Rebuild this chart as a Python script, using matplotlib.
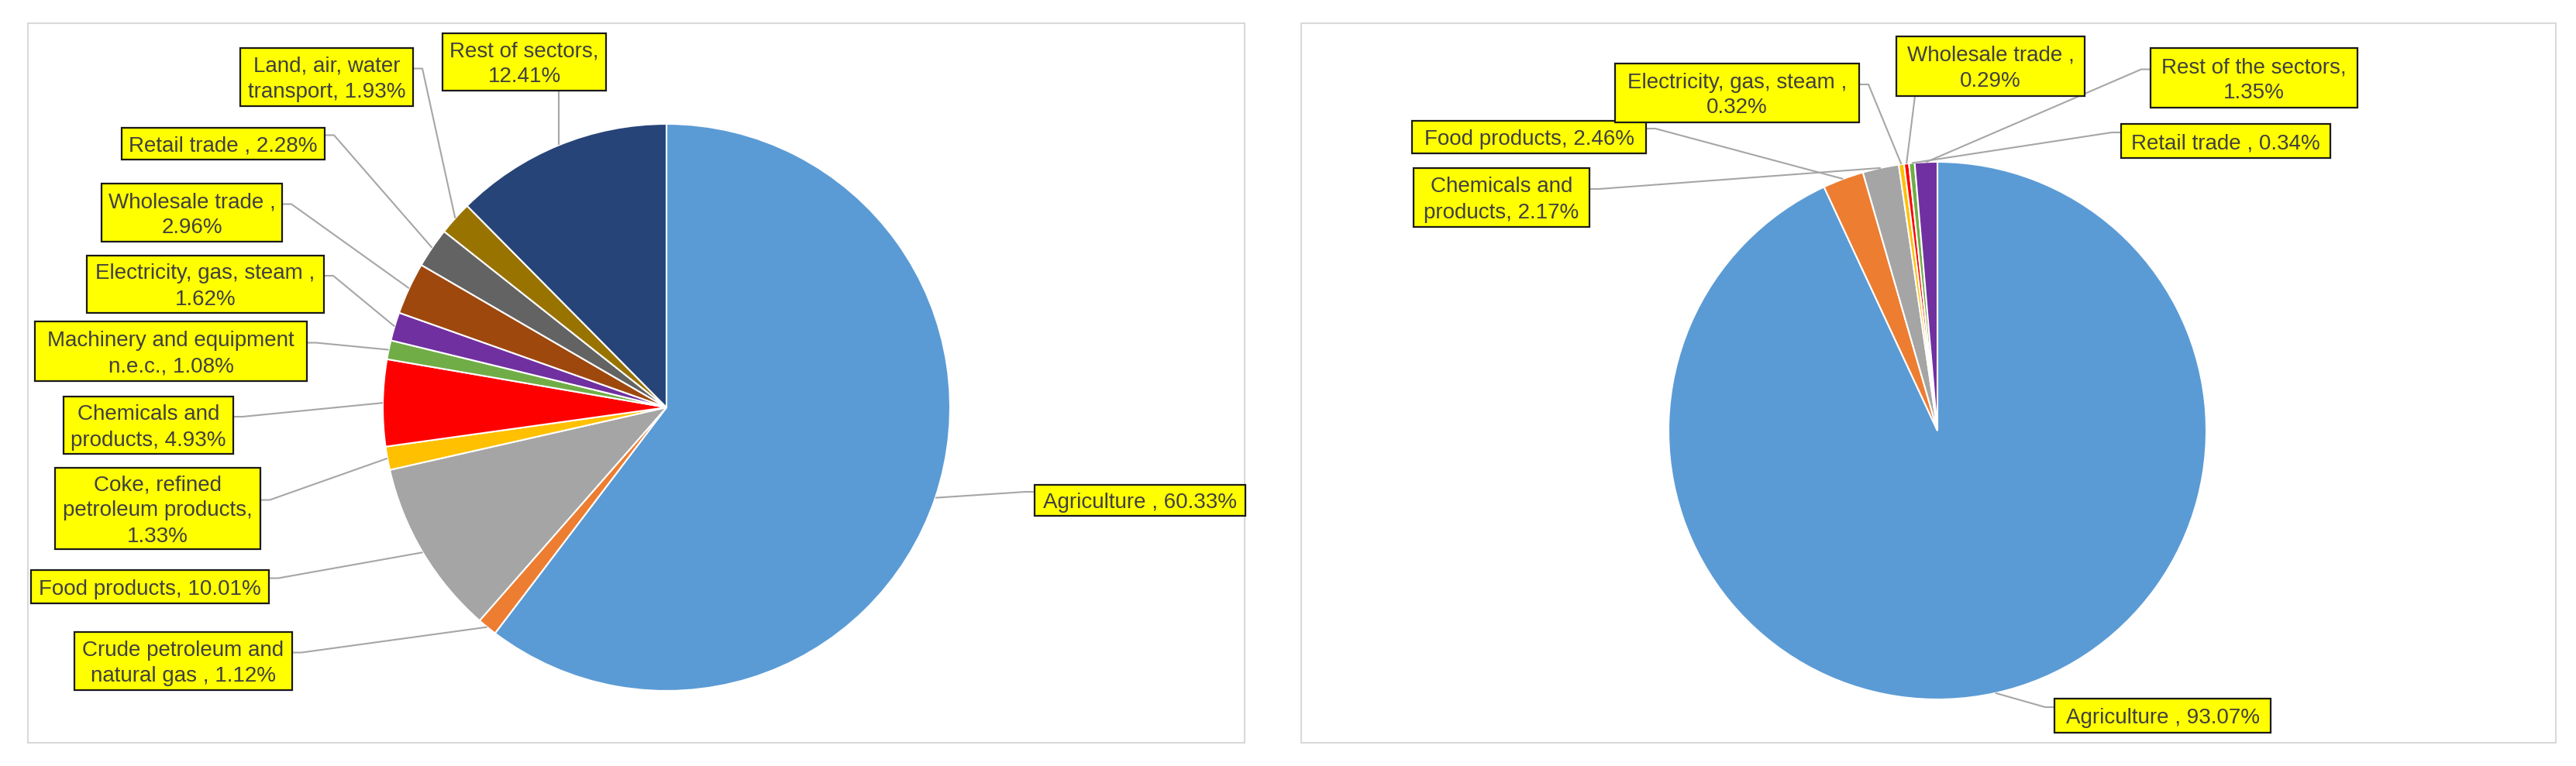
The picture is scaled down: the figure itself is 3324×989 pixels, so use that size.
import matplotlib
matplotlib.use("Agg")
import matplotlib.pyplot as plt
from matplotlib.patches import Rectangle
import numpy as np

W, H = 3324, 989

# ---------------- data ----------------
left_names = ["Agriculture ", "Crude petroleum and\nnatural gas ", "Food products",
              "Coke, refined\npetroleum products", "Chemicals and\nproducts",
              "Machinery and equipment\nn.e.c.", "Electricity, gas, steam ",
              "Wholesale trade ", "Retail trade ", "Land, air, water\ntransport",
              "Rest of sectors"]
left_values = [60.33, 1.12, 10.01, 1.33, 4.93, 1.08, 1.62, 2.96, 2.28, 1.93, 12.41]
left_value_newline = [False, False, False, True, False, False, True, True, False, False, True]
left_colors = ["#5B9BD5", "#ED7D31", "#A5A5A5", "#FFC000", "#FF0000", "#70AD47",
               "#7030A0", "#9E480E", "#636363", "#997300", "#264478"]

right_names = ["Agriculture ", "Food products", "Chemicals and\nproducts",
               "Electricity, gas, steam ", "Wholesale trade ", "Retail trade ",
               "Rest of the sectors"]
right_values = [93.07, 2.46, 2.17, 0.32, 0.29, 0.34, 1.35]
right_value_newline = [False, False, False, True, True, False, True]
right_colors = ["#5B9BD5", "#ED7D31", "#A5A5A5", "#FFC000", "#FF0000", "#70AD47", "#7030A0"]

# ---------------- layout (image pixel coords, y downward) ----------------
left_center, left_radius = (860, 526), 366
right_center, right_radius = (2500, 556), 347

left_boxes = [(1335, 626, 1607, 666, "left"),
              (96, 816, 377, 891, "right"),
              (40, 736, 347, 779, "right"),
              (71, 604, 336, 709, "right"),
              (82, 512, 301, 586, "right"),
              (45, 415, 396, 492, "right"),
              (112, 330, 418, 404, "right"),
              (131, 237, 364, 312, "right"),
              (157, 165, 419, 206, "right"),
              (310, 62, 533, 137, "right"),
              (571, 43, 782, 117, "bottom")]
right_boxes = [(2651, 902, 2930, 946, "left"),
               (1822, 156, 2124, 198, "right"),
               (1824, 217, 2051, 293, "right"),
               (2084, 82, 2399, 158, "right"),
               (2447, 47, 2690, 124, "bottom"),
               (2737, 160, 3007, 204, "left"),
               (2775, 62, 3042, 139, "left")]

FONT = "Liberation Sans"
FS = 20
TXT = "#404040"
LINE = "#A6A6A6"

fig = plt.figure(figsize=(W / 100, H / 100), dpi=100)
fig.patch.set_facecolor("white")
ax = fig.add_axes([0, 0, 1, 1])


def Y(y):
    return H - y


# panel frames
for (x0, y0, x1, y1) in [(36, 30, 1606, 959), (1679, 30, 3298, 959)]:
    ax.add_patch(Rectangle((x0, Y(y1)), x1 - x0, y1 - y0, fill=False,
                           ec="#D9D9D9", lw=1.5, zorder=1))

wp = dict(edgecolor="white", linewidth=1.5)
wl, _ = ax.pie(left_values, colors=left_colors, startangle=90, counterclock=False,
               center=(left_center[0], Y(left_center[1])), radius=left_radius,
               wedgeprops=wp)
wr, _ = ax.pie(right_values, colors=right_colors, startangle=90, counterclock=False,
               center=(right_center[0], Y(right_center[1])), radius=right_radius,
               wedgeprops=wp)


def draw_labels(wedges, center, r, names, values, newline, boxes):
    cx, cy = center
    for i, (w, name, v, nl, box) in enumerate(zip(wedges, names, values, newline, boxes)):
        x0, y0, x1, y1, side = box
        th = np.deg2rad((w.theta1 + w.theta2) / 2.0)
        px = cx + r * np.cos(th)
        py = cy - r * np.sin(th)
        ay = (y0 + y1) / 2.0 - 11
        if side == "right":
            xs = [x1, x1 + 12, px]
            ys = [ay, ay, py]
        elif side == "left":
            xs = [x0, x0 - 12, px]
            ys = [ay, ay, py]
        else:
            bx = min(max(px, x0 + 24), x1 - 24)
            xs = [bx, px]
            ys = [y1, py]
        ax.plot(xs, [Y(y) for y in ys], color=LINE, lw=1.5, zorder=3,
                solid_capstyle="butt")
        ax.add_patch(Rectangle((x0, Y(y1)), x1 - x0, y1 - y0, fc="#FFFF00",
                               ec="#1A1A1A", lw=1.6, zorder=10 + 2 * i))
        label = name + "," + ("\n" if nl else " ") + f"{v:.2f}%"
        lines = label.split("\n")
        n = len(lines)
        mid = (y0 + y1) / 2.0
        xc = (x0 + x1) / 2.0
        for j, line in enumerate(lines):
            yb = mid + (j - (n - 1) / 2.0) * 33 + 10
            ax.text(xc, Y(yb), line, ha="center", va="baseline", fontsize=FS,
                    family=FONT, color=TXT, zorder=11 + 2 * i)


draw_labels(wl, left_center, left_radius, left_names, left_values,
            left_value_newline, left_boxes)
draw_labels(wr, right_center, right_radius, right_names, right_values,
            right_value_newline, right_boxes)

ax.set_xlim(0, W)
ax.set_ylim(0, H)
ax.set_aspect("auto")
ax.axis("off")

fig.savefig("out.png", dpi=100, facecolor="white")
